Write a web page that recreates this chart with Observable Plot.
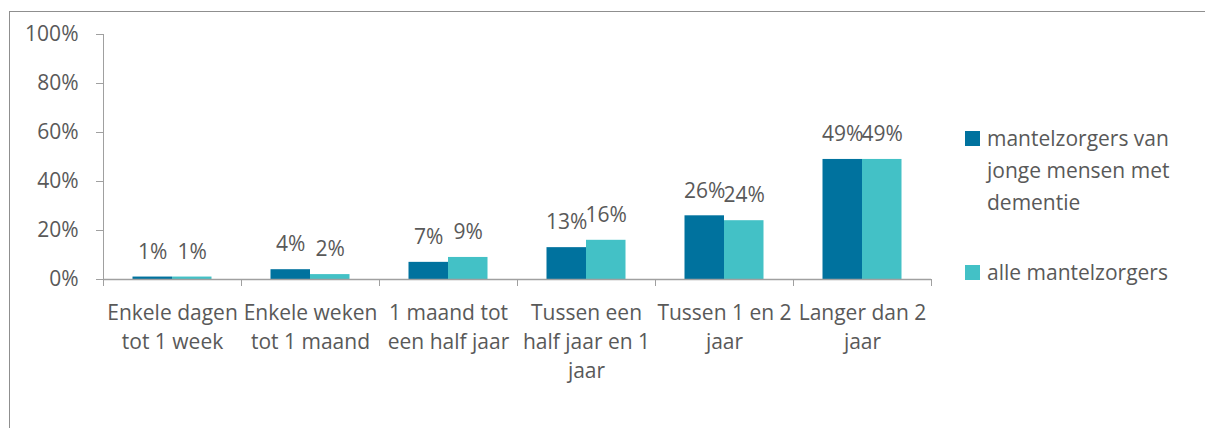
<!DOCTYPE html>
<html>
<head>
<meta charset="utf-8">
<script src="https://cdn.jsdelivr.net/npm/d3@7"></script>
<script src="https://cdn.jsdelivr.net/npm/@observablehq/plot@0.6"></script>
<style>
  html, body { margin: 0; padding: 0; background: #fff; overflow: hidden; }
  #wrap { position: relative; width: 1205px; height: 428px; font-family: "Open Sans", sans-serif; }
  #frame { position: absolute; left: 9px; top: 11px; width: 1300px; height: 600px; border: 1px solid #8f8f8f; box-sizing: border-box; }
  #chart { position: absolute; left: 0; top: 0; }
  #legend { position: absolute; left: 965px; top: 122px; width: 225px; color: #595959; font-size: 21px; line-height: 32px; }
  .item { position: relative; padding-left: 22px; }
  .sw { position: absolute; left: 0; top: 9px; width: 15px; height: 15px; }
</style>
</head>
<body>
<div id="wrap">
  <div id="frame"></div>
  <div id="chart"></div>
  <div id="legend"></div>
</div>
<script>
const categories = [
  "Enkele dagen tot 1 week",
  "Enkele weken tot 1 maand",
  "1 maand tot een half jaar",
  "Tussen een half jaar en 1 jaar",
  "Tussen 1 en 2 jaar",
  "Langer dan 2 jaar"
];
const categoryLabels = [
  "Enkele dagen\ntot 1 week",
  "Enkele weken\ntot 1 maand",
  "1 maand tot\neen half jaar",
  "Tussen een\nhalf jaar en 1\njaar",
  "Tussen 1 en 2\njaar",
  "Langer dan 2\njaar"
];
const seriesNames = ["mantelzorgers van jonge mensen met dementie", "alle mantelzorgers"];
const jongeDementie = [1, 4, 7, 13, 26, 49];
const alleMantelzorgers = [1, 2, 9, 16, 24, 49];
const yTicks = [0, 20, 40, 60, 80, 100];
const colors = ["#00729e", "#43c1c6"];

const rows = [];
categories.forEach((c, i) => {
  rows.push({cat: c, series: seriesNames[0], value: jongeDementie[i]});
  rows.push({cat: c, series: seriesNames[1], value: alleMantelzorgers[i]});
});
const s0 = rows.filter(d => d.series === seriesNames[0]);
const s1 = rows.filter(d => d.series === seriesNames[1]);
const labelOf = new Map(categories.map((c, i) => [c, categoryLabels[i]]));

const textColor = "#595959";
const axisColor = "#a0a0a0";

const chart = Plot.plot({
  width: 1205,
  height: 428,
  marginLeft: 103,
  marginRight: 274,
  marginTop: 34,
  marginBottom: 149,
  style: {fontFamily: "Open Sans, sans-serif", fontSize: "21px", color: textColor, background: "transparent"},
  x: {domain: categories, padding: 0},
  y: {domain: [0, 100]},
  marks: [
    Plot.barY(s0, {x: "cat", y: "value", fill: colors[0], insetLeft: 29.5, insetRight: 69}),
    Plot.barY(s1, {x: "cat", y: "value", fill: colors[1], insetLeft: 69, insetRight: 29.5}),
    Plot.text(s0, {x: "cat", y: "value", text: d => d.value + "%", dx: -19.75, dy: -25, fill: textColor, fontSize: 21}),
    Plot.text(s1, {x: "cat", y: "value", text: d => d.value + "%", dx: 19.75, dy: -25, fill: textColor, fontSize: 21}),
    Plot.frame({anchor: "left", stroke: axisColor, strokeOpacity: 1}),
    Plot.ruleY([0], {stroke: axisColor, strokeWidth: 1.5}),
    Plot.axisY({ticks: yTicks, tickFormat: d => d + "%", tickSize: 7, tickPadding: 18, stroke: axisColor, fill: textColor, fontSize: 21, label: null}),
    Plot.axisX({tickSize: 7, dx: -69, text: null, stroke: axisColor, label: null}),
    Plot.axisX({ticks: [categories[categories.length - 1]], tickSize: 7, dx: 69, text: null, stroke: axisColor, label: null}),
    Plot.axisX({tickSize: 0, tickPadding: 20, tickFormat: d => labelOf.get(d), lineHeight: 1.38, fill: textColor, fontSize: 21, label: null})
  ]
});
document.getElementById("chart").appendChild(chart);

const legend = document.getElementById("legend");
seriesNames.forEach((name, i) => {
  const item = document.createElement("div");
  item.className = "item";
  if (i > 0) item.style.marginTop = "38px";
  const sw = document.createElement("span");
  sw.className = "sw";
  sw.style.background = colors[i];
  item.appendChild(sw);
  item.appendChild(document.createTextNode(name));
  legend.appendChild(item);
});
</script>
</body>
</html>
